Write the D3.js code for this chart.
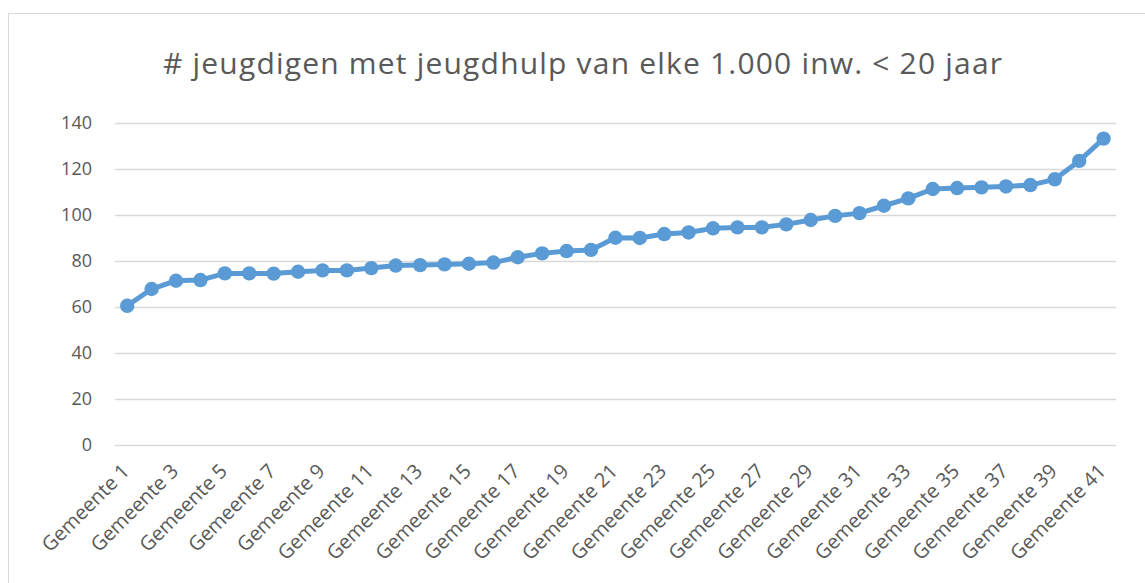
<!DOCTYPE html>
<html><head><meta charset="utf-8">
<script src="https://cdn.jsdelivr.net/npm/d3@7"></script>
<style>body{margin:0;background:#fff}svg{display:block;font-family:"Open Sans",sans-serif}</style>
</head><body><svg id="c" width="1145" height="583"></svg>
<script>
const title = "# jeugdigen met jeugdhulp van elke 1.000 inw. < 20 jaar";
const categories = d3.range(1, 42).map(i => "Gemeente " + i);
const values = [60.3,67.6,71.2,71.5,74.4,74.4,74.3,75.1,75.7,75.7,76.7,77.8,78.0,78.3,78.6,79.1,81.4,83.1,84.1,84.6,89.9,89.8,91.5,92.2,94.0,94.4,94.4,95.7,97.6,99.4,100.6,103.8,107.0,111.1,111.5,111.8,112.2,112.8,115.3,123.3,133.0];
const yTicks = [0,20,40,60,80,100,120,140];

const svg = d3.select("#c");
svg.append("rect").attr("x",8.5).attr("y",13.5).attr("width",1150).attr("height",600)
  .attr("fill","#fff").attr("stroke","#d9d9d9").attr("stroke-width",1);

const x = d3.scalePoint().domain(categories).range([127.2, 1103.6]);
const y = d3.scaleLinear().domain([0,140]).range([444.5, 122.5]);

svg.append("text").attr("x",582.5).attr("y",74).attr("text-anchor","middle")
  .attr("fill","#595959").attr("font-size",30).attr("textLength",839).attr("lengthAdjust","spacing").text(title);

const g = svg.append("g");
g.selectAll("line.grid").data(yTicks).join("line").attr("class","grid")
  .attr("x1",115).attr("x2",1116).attr("y1",d=>Math.round(y(d))+0.5).attr("y2",d=>Math.round(y(d))+0.5)
  .attr("stroke","#d9d9d9").attr("stroke-width",1.3);

const yAxis = svg.append("g").attr("transform","translate(115,0)")
  .call(d3.axisLeft(y).tickValues(yTicks).tickSize(0).tickPadding(23));
yAxis.select(".domain").remove();
yAxis.selectAll("text").attr("fill","#595959").attr("font-size",18).attr("font-family","'Open Sans',sans-serif");

const xAxis = svg.append("g").attr("transform","translate(0,444.5)")
  .call(d3.axisBottom(x).tickValues(categories.filter((d,i)=>i%2===0)).tickSize(0));
xAxis.select(".domain").remove();
xAxis.selectAll("text").attr("fill","#595959").attr("font-size",20).attr("font-family","'Open Sans',sans-serif")
  .attr("text-anchor","end").attr("dy",0).attr("transform",d=>`translate(3,28) rotate(-45)`).attr("y",0).attr("x",0);

const line = d3.line().x((d,i)=>x(categories[i])).y(d=>y(d));
svg.append("path").datum(values).attr("d",line).attr("fill","none")
  .attr("stroke","#5b9bd5").attr("stroke-width",5).attr("stroke-linejoin","round");
svg.selectAll("circle").data(values).join("circle")
  .attr("cx",(d,i)=>x(categories[i])).attr("cy",d=>y(d)).attr("r",7.2).attr("fill","#5b9bd5");
</script></body></html>
